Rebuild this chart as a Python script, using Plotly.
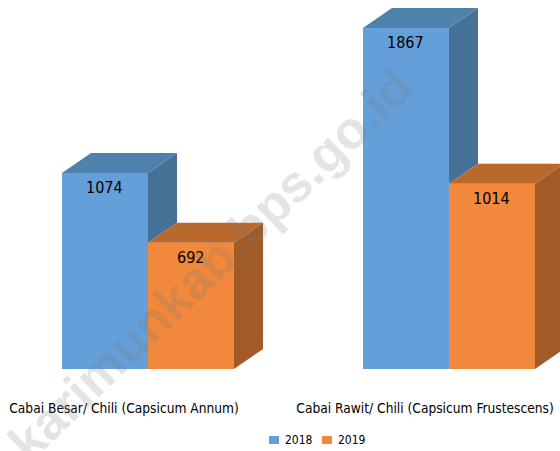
import plotly.graph_objects as go

categories = ["Cabai Besar/ Chili (Capsicum Annum)", "Cabai Rawit/ Chili (Capsicum Frustescens)"]
series_names = ["2018", "2019"]
values_2018 = [1074, 1867]
values_2019 = [692, 1014]

W, H = 560, 451
BASE_PX = 369
PX_PER_UNIT = 0.1826
PX_PER_CAT = 301
ZERO_CAT_PX = 148
BAR_W = 86 / PX_PER_CAT
DX = 29 / PX_PER_CAT
DY = 20 / PX_PER_UNIT
LABEL_SHIFT = -24 / PX_PER_CAT

FONT = "DejaVu Sans Condensed, Lato, sans-serif"
BLUE, BLUE_TOP, BLUE_SIDE = "#659fd9", "#4f81ad", "#467096"
ORANGE, ORANGE_TOP, ORANGE_SIDE = "#f1883b", "#ba692c", "#a15b26"

xs = list(range(len(categories)))
fig = go.Figure()


def poly(px, py, color):
    fig.add_trace(go.Scatter(x=px + px[:1], y=py + py[:1], mode="lines", fill="toself",
                             fillcolor=color, line=dict(width=0), hoverinfo="skip",
                             showlegend=False))


annotations, shapes = [], []
for name, vals, off, col in ((series_names[0], values_2018, -BAR_W, BLUE),
                             (series_names[1], values_2019, 0, ORANGE)):
    fig.add_trace(go.Bar(name=name, x=xs, y=vals, width=BAR_W, offset=off, showlegend=False,
                         marker=dict(color=col, line=dict(width=0))))
    for x, v in zip(xs, vals):
        annotations.append(dict(text=str(v), x=x + off + BAR_W / 2, y=v, xref="x", yref="y",
                                yanchor="top", yshift=-3, xshift=-1, showarrow=False,
                                font=dict(family=FONT, size=16, color="#000000")))

for x, a, b in zip(xs, values_2018, values_2019):
    # visible part of the 2018 side face, above the 2019 top face
    poly([x, x + DX, x + DX, x], [a, a + DY, b + DY, b], BLUE_SIDE)
    poly([x - BAR_W, x, x + DX, x - BAR_W + DX], [a, a, a + DY, a + DY], BLUE_TOP)
    poly([x + BAR_W, x + BAR_W + DX, x + BAR_W + DX, x + BAR_W], [b, b + DY, DY, 0], ORANGE_SIDE)
    poly([x, x + BAR_W, x + BAR_W + DX, x + DX], [b, b, b + DY, b + DY], ORANGE_TOP)


def px_x(p):
    return p / W


def px_y(p):
    return 1 - p / BASE_PX


# legend row
for name, sw, col in zip(series_names, (269, 322), (BLUE, ORANGE)):
    shapes.append(dict(type="rect", xref="paper", yref="paper", x0=px_x(sw), x1=px_x(sw + 10),
                       y0=px_y(436), y1=px_y(444), fillcolor=col, line=dict(width=0)))
    annotations.append(dict(text=name, xref="paper", yref="paper", x=px_x(sw + 14), y=px_y(440),
                            xanchor="left", yanchor="middle", showarrow=False,
                            font=dict(family=FONT, size=12, color="#000000")))

annotations.append(dict(text="karimunkab.bps.go.id", xref="paper", yref="paper", x=px_x(210), y=px_y(265),
                        xanchor="center", yanchor="middle", showarrow=False, textangle=-44,
                        font=dict(family="Liberation Sans", size=52, weight=700,
                                  color="rgba(120,120,120,0.2)")))

fig.update_layout(
    width=W, height=H, autosize=False,
    margin=dict(l=0, r=0, t=0, b=H - BASE_PX, pad=0),
    paper_bgcolor="white", plot_bgcolor="white",
    barmode="overlay",
    xaxis=dict(range=[-ZERO_CAT_PX / PX_PER_CAT, (W - ZERO_CAT_PX) / PX_PER_CAT],
               tickmode="array", tickvals=[x + LABEL_SHIFT for x in xs], ticktext=categories,
               tickangle=0, ticks="", showgrid=False, zeroline=False, showline=False,
               ticklabelstandoff=29, ticklabeloverflow="allow",
               tickfont=dict(family=FONT, size=13.65, color="#000000")),
    yaxis=dict(range=[0, BASE_PX / PX_PER_UNIT], visible=False),
    showlegend=False,
    annotations=annotations,
    shapes=shapes,
)
fig.write_html("out.html", config=dict(displayModeBar=False),
               post_script="document.body.style.margin='0';")
